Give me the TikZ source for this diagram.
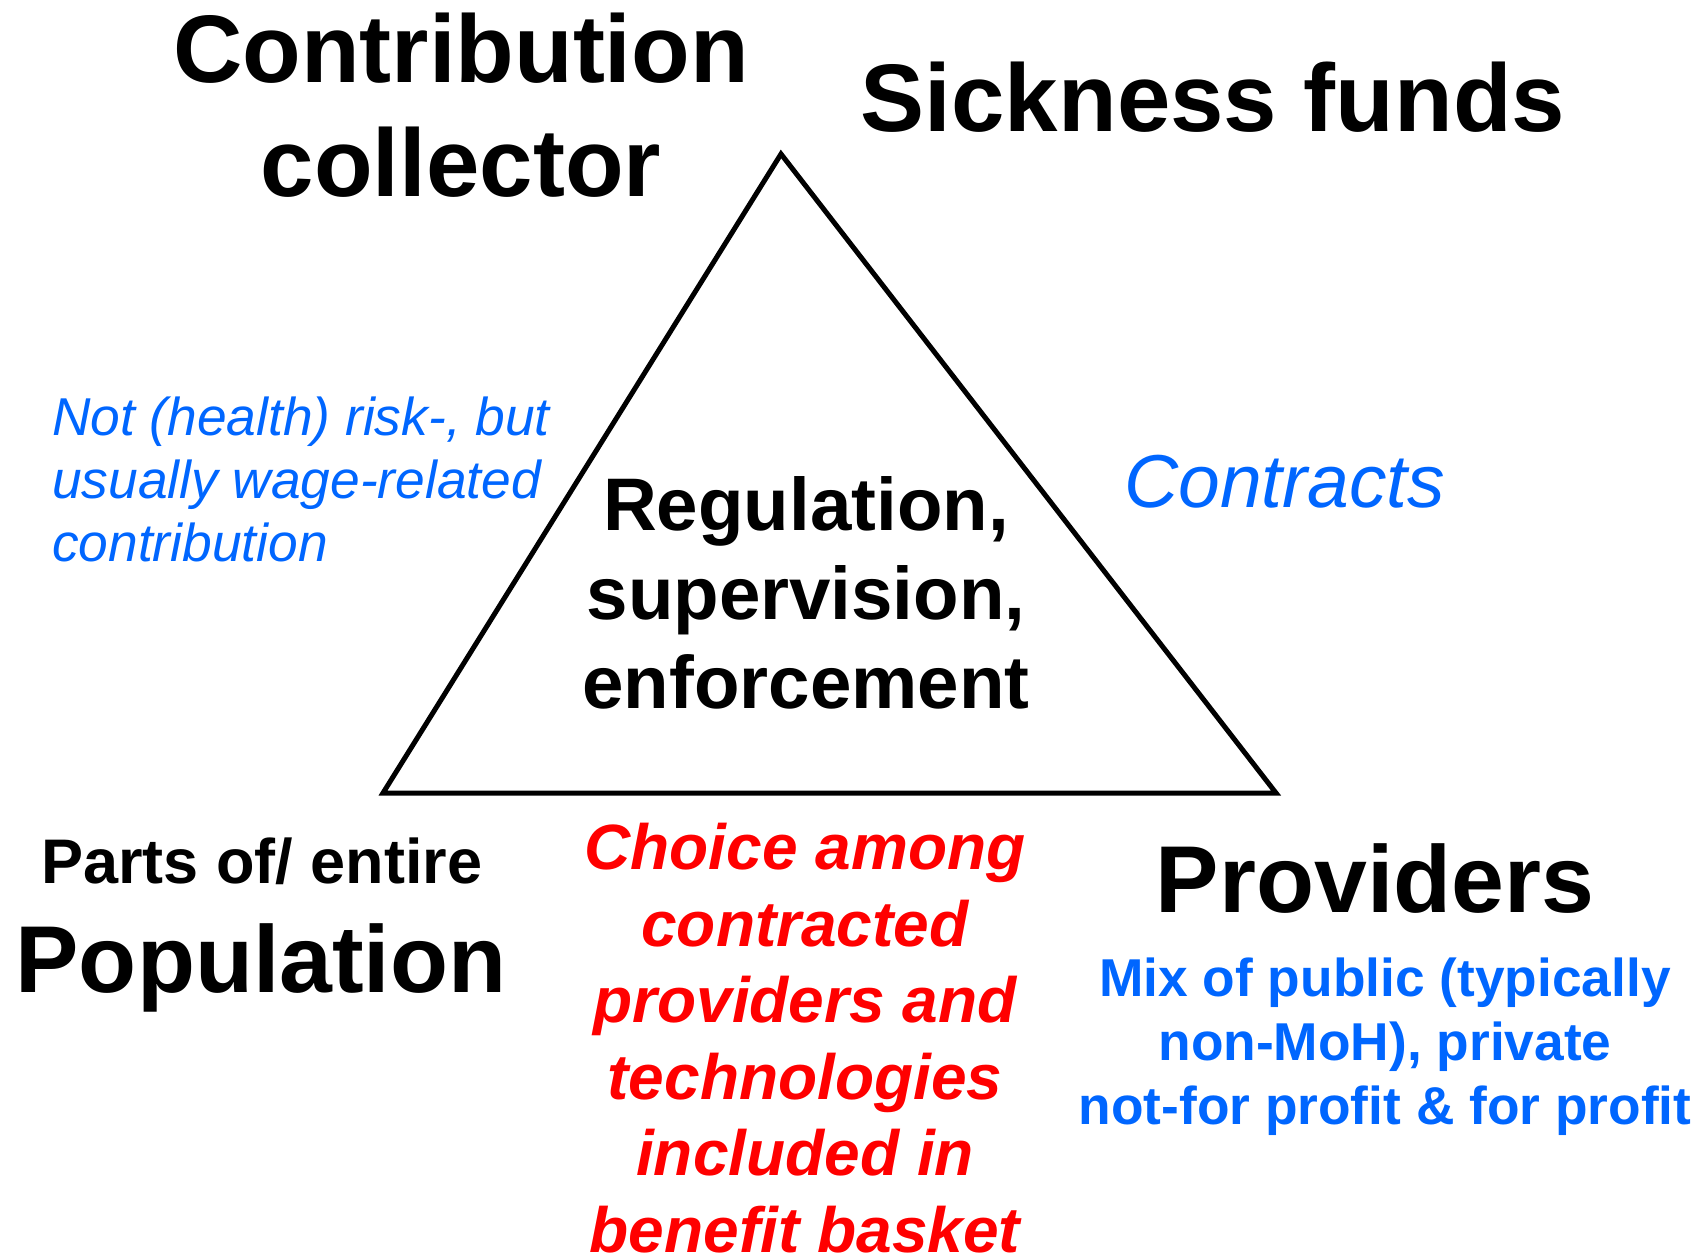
\documentclass[tikz,border=0pt]{standalone}
\usepackage{fontspec}
\setmainfont{Liberation Sans}
\definecolor{noteblue}{HTML}{0066FF}
\definecolor{choicered}{HTML}{FF0000}

\begin{document}
\begin{tikzpicture}[x=1pt,y=-1pt,
    every node/.style={inner sep=0pt,align=center,anchor=base},
    actor/.style={font=\bfseries\fontsize{96}{114}\selectfont},
    note/.style={text=noteblue,font=\itshape\fontsize{53.3}{63}\selectfont}]
  \useasboundingbox (0,0) rectangle (1706,1254);

  \coordinate (apex) at (781,154);
  \coordinate (left) at (383,793);
  \coordinate (right) at (1276,793);
  \draw[line width=5pt] (apex) -- (left) -- (right) -- cycle;

  % multi-line nodes sit on the baseline of their last line
  \node[actor] (collector) at (461,196) {Contribution\\collector};
  \node[actor] (funds) at (1213,131) {Sickness funds};
  \node[font=\bfseries\fontsize{74.5}{89}\selectfont] (regulation) at (806,708)
    {Regulation,\\supervision,\\enforcement};

  \node[note,align=left,anchor=base west] (wage) at (52,561)
    {Not (health) risk-, but\\usually wage-related\\contribution};
  \node[note,font=\itshape\fontsize{75}{90}\selectfont,anchor=base west] (contracts) at (1124,507) {Contracts};

  \node[font=\bfseries\fontsize{63}{75}\selectfont] (parts) at (262,883) {Parts of/ entire};
  \node[actor,font=\bfseries\fontsize{95}{114}\selectfont] (population) at (261,992) {Population};
  \node[text=choicered,font=\bfseries\itshape\fontsize{64}{76.5}\selectfont] (choice) at (805,1252)
    {Choice among\\contracted\\providers and\\technologies\\included in\\benefit basket};
  \node[font=\bfseries\fontsize{95}{114}\selectfont] (providers) at (1375,912) {Providers};
  \node[text=noteblue,font=\bfseries\fontsize{53.3}{64}\selectfont] (mix) at (1385,1124)
    {Mix of public (typically\\non-MoH), private\\not-for profit \& for profit};
\end{tikzpicture}
\end{document}
